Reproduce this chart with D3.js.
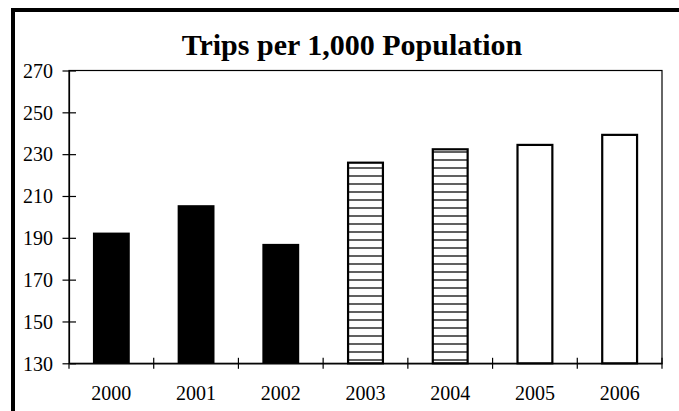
<!DOCTYPE html>
<html>
<head>
<meta charset="utf-8">
<script src="https://cdn.jsdelivr.net/npm/d3@7"></script>
<style>
  html, body { margin: 0; padding: 0; background: #fff; overflow: hidden; }
  svg { display: block; }
  text { font-family: "Liberation Serif", "Times New Roman", serif; fill: #000; }
</style>
</head>
<body>
<svg id="chart" width="679" height="411"></svg>
<script>
// Trips per 1,000 population, by year
const years = ["2000", "2001", "2002", "2003", "2004", "2005", "2006"];
const trips = [192.5, 205.6, 187.1, 226.4, 232.8, 234.9, 239.7];
// fill style per year: solid, hatched, open
const styles = ["solid", "solid", "solid", "hatch", "hatch", "open", "open"];
const yTicks = [130, 150, 170, 190, 210, 230, 250, 270];
const title = "Trips per 1,000 Population";

const svg = d3.select("#chart");
const plot = { left: 69, right: 662, top: 70.5, bottom: 363.3 };

// chart frame: left and top edges (the rest runs off the canvas)
svg.append("path")
  .attr("d", "M13,411 L13,10 L679,10")
  .attr("fill", "none").attr("stroke", "#000").attr("stroke-width", 4);

// horizontal hatch pattern
const defs = svg.append("defs");
const pat = defs.append("pattern")
  .attr("id", "hatch")
  .attr("patternUnits", "userSpaceOnUse")
  .attr("x", 0).attr("y", -1)
  .attr("width", 8).attr("height", 8);
pat.append("rect").attr("width", 8).attr("height", 8).attr("fill", "#fff");
pat.append("rect").attr("x", 0).attr("y", 0.2).attr("width", 8).attr("height", 1.6).attr("fill", "#3a3a3a");

const x = d3.scaleBand()
  .domain(years)
  .range([plot.left, plot.right])
  .paddingInner(0.565)
  .paddingOuter(0.2825);

const y = d3.scaleLinear()
  .domain([130, 270])
  .range([plot.bottom, plot.top]);

// title
svg.append("text")
  .attr("x", 352).attr("y", 55)
  .attr("text-anchor", "middle")
  .attr("font-size", 30).attr("font-weight", "bold")
  .text(title);

// plot area border
svg.append("rect")
  .attr("x", plot.left).attr("y", plot.top)
  .attr("width", plot.right - plot.left).attr("height", plot.bottom - plot.top)
  .attr("fill", "none").attr("stroke", "#000").attr("stroke-width", 1.2);

// bars
const data = years.map((yr, i) => ({ year: yr, value: trips[i], style: styles[i] }));
svg.append("g").selectAll("rect")
  .data(data)
  .join("rect")
  .attr("x", d => x(d.year) + (d.style === "solid" ? 0 : 1))
  .attr("width", d => x.bandwidth() - (d.style === "solid" ? 0 : 2))
  .attr("y", d => y(d.value) + (d.style === "solid" ? 0 : 1))
  .attr("height", d => y(130) - y(d.value) - (d.style === "solid" ? 0 : 1))
  .attr("fill", d => d.style === "solid" ? "#000" : d.style === "hatch" ? "url(#hatch)" : "#fff")
  .attr("stroke", d => d.style === "solid" ? "none" : "#000")
  .attr("stroke-width", 2.2);

// y axis with ticks crossing the axis line
const yAxis = d3.axisLeft(y).tickValues(yTicks).tickSize(0).tickPadding(16);
const gy = svg.append("g").attr("transform", `translate(${plot.left},0)`).call(yAxis);
gy.select(".domain").attr("stroke", "#000").attr("stroke-width", 1.2);
gy.selectAll(".tick line").attr("x1", -6.5).attr("x2", 7).attr("stroke", "#000").attr("stroke-width", 1.2);
gy.selectAll(".tick text").attr("font-size", 20).attr("font-family", "Liberation Serif, serif").attr("fill", "#000").attr("dy", "0.34em");

// x axis: category labels, ticks on band boundaries
const xAxis = d3.axisBottom(x).tickSize(0).tickPadding(23);
const gx = svg.append("g").attr("transform", `translate(0,${plot.bottom})`).call(xAxis);
gx.select(".domain").attr("stroke", "#000").attr("stroke-width", 1.2);
gx.selectAll(".tick line").remove();
gx.selectAll(".tick text").attr("font-size", 20).attr("font-family", "Liberation Serif, serif").attr("fill", "#000");

const bounds = d3.range(1, years.length + 1).map(i => plot.left + i * (plot.right - plot.left) / years.length);
gx.selectAll(".bound")
  .data(bounds)
  .join("line")
  .attr("class", "bound")
  .attr("x1", d => d).attr("x2", d => d)
  .attr("y1", -5.5).attr("y2", 5.5)
  .attr("stroke", "#000").attr("stroke-width", 1.2);
gx.append("line")
  .attr("x1", plot.left).attr("x2", plot.left)
  .attr("y1", 0).attr("y2", 5.5)
  .attr("stroke", "#000").attr("stroke-width", 1.2);
</script>
</body>
</html>
